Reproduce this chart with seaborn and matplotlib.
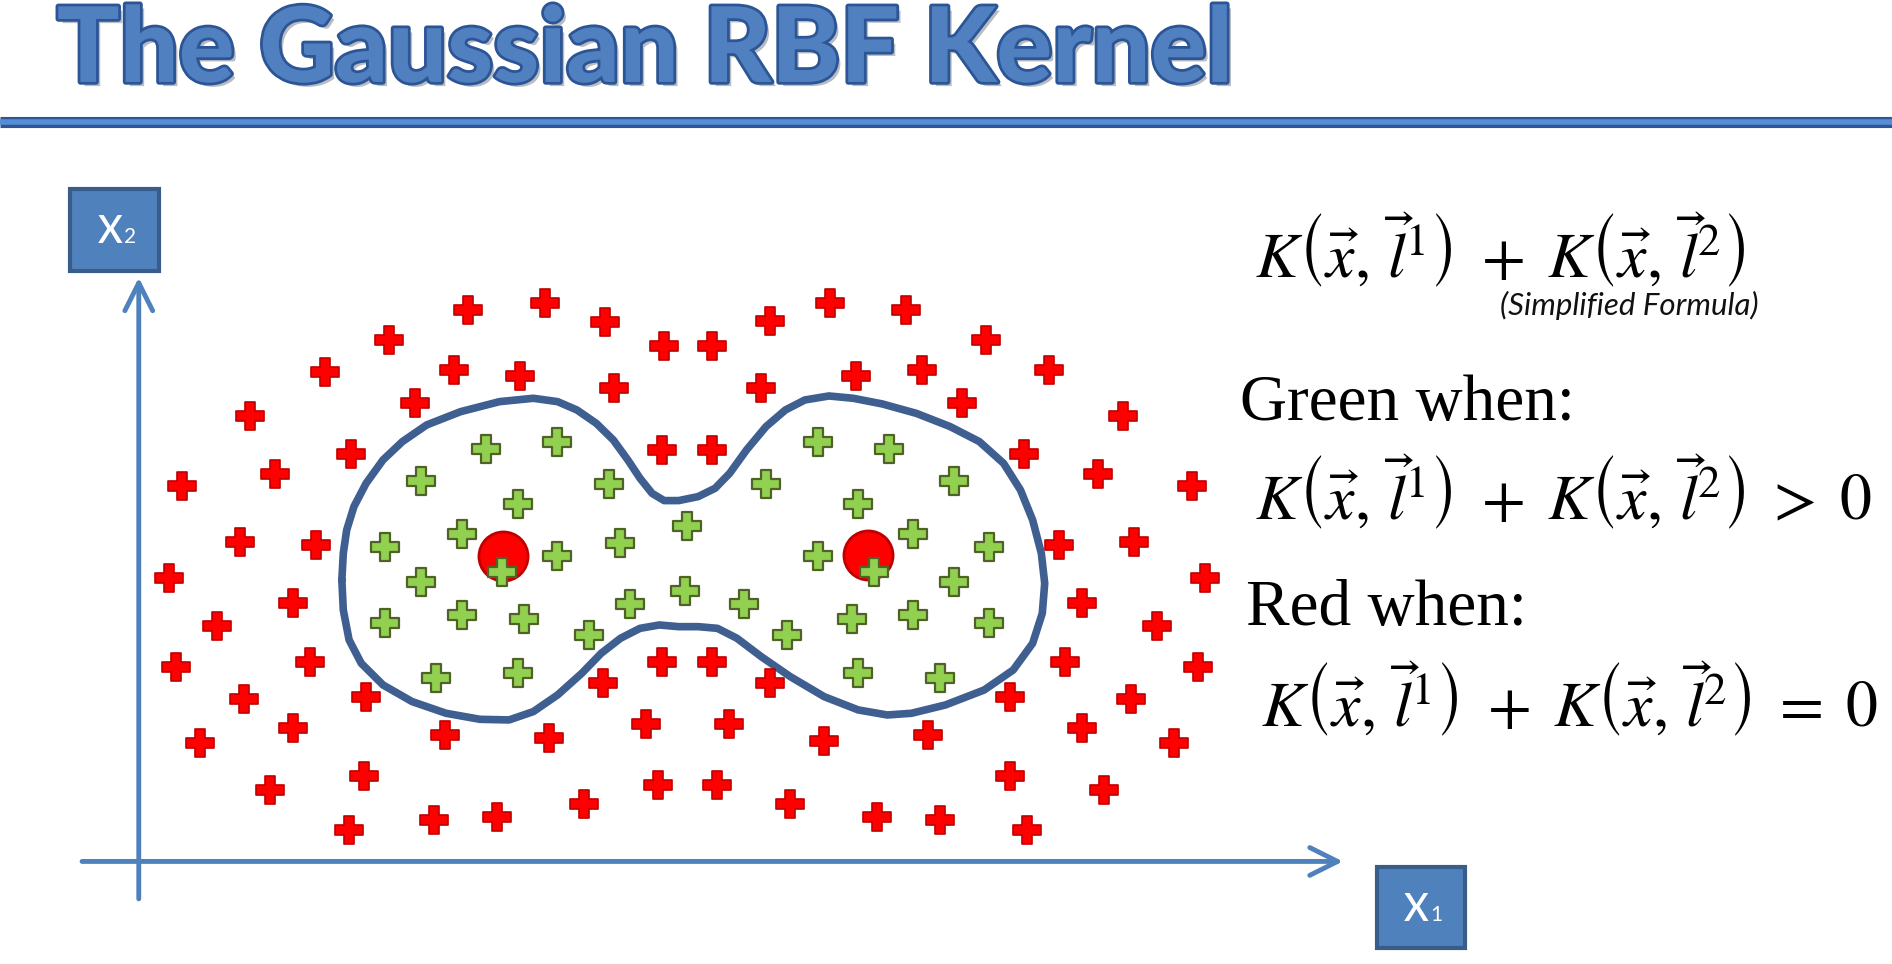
import numpy as np
import pandas as pd
import matplotlib
matplotlib.use('Agg')
import matplotlib.pyplot as plt
import matplotlib.patheffects as pe
from matplotlib.lines import Line2D
from matplotlib.patches import Rectangle
import seaborn as sns

# points, (x1, x2) in axis units
red_x1 = [27.3, 33.7, 38.6, 43.5, 47.5, 52.3, 57.3, 63.6, 70.2, 20.7, 15.4, 26.1, 31.6, 39.4, 51.6,
          59.4, 64.9, 75.4, 22.9, 68.2, 9.2, 81.6, 17.6, 43.4, 47.5, 73.4, 3.6, 11.3, 79.5, 87.3,
          8.4, 14.7, 76.3, 82.5, 2.5, 88.4, 12.8, 78.2, 6.5, 84.4, 3.1, 14.2, 43.4, 47.5, 76.8,
          87.8, 18.8, 38.5, 52.3, 72.2, 8.7, 82.2, 12.8, 25.4, 34.0, 42.0, 48.9, 56.8, 65.4, 78.2,
          5.1, 85.8, 18.7, 72.2, 10.9, 43.0, 47.9, 80.0, 36.9, 54.0, 24.5, 29.7, 61.2, 66.4, 17.4, 73.6]
red_x2 = [45.7, 46.3, 44.7, 42.7, 42.7, 44.8, 46.3, 45.7, 43.2, 43.2, 40.6, 40.7, 40.2, 39.2, 39.2,
          40.2, 40.7, 40.7, 38.0, 38.0, 36.9, 36.9, 33.8, 34.1, 34.1, 33.8, 31.1, 32.1, 32.1, 31.1,
          26.5, 26.2, 26.2, 26.5, 23.5, 23.5, 21.4, 21.4, 19.5, 19.5, 16.1, 16.5, 16.5, 16.5, 16.5,
          16.1, 13.6, 14.8, 14.8, 13.6, 13.5, 13.5, 11.1, 10.5, 10.2, 11.4, 11.4, 10.0, 10.5, 11.1,
          9.8, 9.8, 7.1, 7.1, 5.9, 6.3, 6.3, 5.9, 4.8, 4.8, 3.4, 3.7, 3.7, 3.4, 2.6, 2.6]

green_x1 = [28.8, 34.7, 23.4, 39.0, 31.4, 26.8, 20.4, 34.7, 39.9, 45.4, 30.1, 23.4, 20.4, 26.8, 31.9,
            40.7, 45.3, 50.2, 37.3, 53.7, 59.1, 64.2, 70.5, 56.3, 60.9, 64.2, 59.6, 52.0, 56.3, 62.2,
            67.6, 67.6, 70.5, 31.4, 24.6, 59.6, 66.4]
green_x2 = [34.2, 34.8, 31.5, 31.3, 29.6, 27.1, 26.1, 25.3, 26.4, 27.8, 24.0, 23.2, 19.8, 20.4, 20.1,
            21.3, 22.4, 21.3, 18.8, 18.8, 20.1, 20.4, 19.8, 25.3, 24.0, 27.1, 29.6, 31.3, 34.8, 34.2,
            31.5, 23.2, 26.1, 15.6, 15.2, 15.6, 15.2]

landmark_x1 = [30.2, 60.4]
landmark_x2 = [25.3, 25.4]

# decision boundary
boundary_x1 = [16.83, 16.95, 17.23, 17.83, 18.84, 20.24, 21.85, 23.86, 26.67, 29.89, 32.70, 34.71,
               36.31, 37.92, 39.33, 40.53, 41.54, 42.54, 43.54, 44.75, 46.36, 47.76, 48.97, 50.37,
               51.98, 53.59, 55.20, 57.20, 59.21, 61.62, 64.44, 67.25, 69.66, 71.67, 73.07, 74.08,
               74.80, 75.08, 74.88, 74.08, 72.47, 70.06, 66.85, 64.03, 62.03, 59.62, 56.80, 53.99,
               51.58, 49.57, 47.96, 46.36, 44.75, 43.14, 41.54, 39.93, 38.32, 36.72, 34.71, 32.70,
               30.69, 28.28, 25.47, 22.65, 20.24, 18.44, 17.43, 16.95, 16.83]
boundary_x2 = [23.33, 25.54, 27.47, 29.41, 31.34, 33.28, 34.80, 36.18, 37.28, 38.11, 38.39, 38.11,
               37.42, 36.31, 34.93, 33.28, 31.76, 30.51, 29.91, 29.91, 30.24, 30.93, 32.17, 34.11,
               36.04, 37.42, 38.25, 38.58, 38.39, 37.92, 37.14, 36.04, 34.80, 33.00, 30.79, 28.30,
               25.54, 23.05, 20.57, 18.08, 15.87, 14.21, 12.97, 12.28, 12.14, 12.56, 13.66, 15.32,
               16.98, 18.50, 19.32, 19.46, 19.46, 19.60, 19.32, 18.50, 17.25, 15.60, 13.80, 12.42,
               11.73, 11.78, 12.28, 13.25, 14.63, 16.42, 18.36, 20.84, 23.33]

red_df = pd.DataFrame({'x1': red_x1, 'x2': red_x2})
green_df = pd.DataFrame({'x1': green_x1, 'x2': green_x2})
lm_df = pd.DataFrame({'x1': landmark_x1, 'x2': landmark_x2})

sns.set_theme(style='white')
plt.rcParams['font.family'] = ['Lato', 'DejaVu Sans']
plt.rcParams['mathtext.fontset'] = 'stix'

fig = plt.figure(figsize=(18.92, 9.64), dpi=100)
fig.patch.set_facecolor('white')

# title + rule under it
fig.text(0.030, 0.915, 'The Gaussian RBF Kernel', fontsize=75, fontweight='black',
         color='#5080C0', va='baseline', ha='left',
         path_effects=[pe.SimplePatchShadow(offset=(3, -3), alpha=0.3),
                       pe.Stroke(linewidth=4, foreground='#2C5596'), pe.Normal()])
fig.add_artist(Line2D([0, 1], [0.873, 0.873], transform=fig.transFigure,
                      color='#2F5597', linewidth=8, solid_capstyle='butt'))
fig.add_artist(Line2D([0, 1], [0.873, 0.873], transform=fig.transFigure,
                      color='#558ED5', linewidth=4, solid_capstyle='butt'))

ax = fig.add_axes([0.03508, 0.05632, 0.67602, 0.67584])
ax.set_xlim(-6, 100)
ax.set_ylim(-4, 50)
ax.axis('off')

axis_col = '#4F81BD'
ax.annotate('', xy=(99.8, 0), xytext=(-4.7, 0),
            arrowprops=dict(arrowstyle='->,head_length=1.0,head_width=0.5', color=axis_col,
                            lw=3.5, mutation_scale=20, shrinkA=0, shrinkB=0))
ax.annotate('', xy=(0, 48.4), xytext=(0, -3.1),
            arrowprops=dict(arrowstyle='->,head_length=1.0,head_width=0.5', color=axis_col,
                            lw=3.5, mutation_scale=20, shrinkA=0, shrinkB=0))

ax.plot(boundary_x1, boundary_x2, color='#3F5F91', lw=5.5, solid_joinstyle='round',
        solid_capstyle='round', zorder=2)

sns.scatterplot(data=red_df, x='x1', y='x2', marker='P', s=400, color='#FF0000',
                edgecolor='#C00000', linewidth=1.2, ax=ax, zorder=3)
sns.scatterplot(data=lm_df, x='x1', y='x2', marker='o', s=1250, color='#FF0000',
                edgecolor='#C00000', linewidth=2, ax=ax, zorder=3)
sns.scatterplot(data=green_df, x='x1', y='x2', marker='P', s=390, color='#92D050',
                edgecolor='#4F6228', linewidth=1.6, ax=ax, zorder=4)

# axis label boxes
for (l, b, w, h, sub) in [(0.0370, 0.7184, 0.0472, 0.0851, '2'),
                          (0.7277, 0.0163, 0.0466, 0.0839, '1')]:
    fig.add_artist(Rectangle((l, b), w, h, transform=fig.transFigure, facecolor='#4F81BD',
                             edgecolor='#385D8A', linewidth=3))
    cx, cy = l + w / 2, b + h / 2
    fig.text(cx + 0.0042, cy - 0.0135, 'X', color='white', fontsize=27, ha='right',
             va='baseline', fontweight='semibold')
    fig.text(cx + 0.0050, cy - 0.0135, sub, color='white', fontsize=15, ha='left',
             va='baseline')

k_sum = r'$K\left(\vec{x},\,\vec{l}^{1}\right)\;+\;K\left(\vec{x},\,\vec{l}^{2}\right)$'
k_gt = r'$K\left(\vec{x},\,\vec{l}^{1}\right)\;+\;K\left(\vec{x},\,\vec{l}^{2}\right)\;>\;0$'
k_eq = r'$K\left(\vec{x},\,\vec{l}^{1}\right)\;+\;K\left(\vec{x},\,\vec{l}^{2}\right)\;=\;0$'

fig.text(0.6633, 0.740, k_sum, fontsize=46, va='center', ha='left', color='black')
fig.text(0.7930, 0.6834, '(Simplified Formula)', fontsize=22.5, style='italic', va='center',
         ha='left', color='#111111')
fig.text(0.6556, 0.5807, 'Green when:', fontsize=47, va='center', ha='left', color='black',
         family=['Liberation Serif', 'DejaVu Serif'])
fig.text(0.6633, 0.4894, k_gt, fontsize=46, va='center', ha='left', color='black')
fig.text(0.6588, 0.368, 'Red when:', fontsize=47, va='center', ha='left', color='black',
         family=['Liberation Serif', 'DejaVu Serif'])
fig.text(0.6665, 0.274, k_eq, fontsize=46, va='center', ha='left', color='black')

fig.savefig('out.png', dpi=100)
